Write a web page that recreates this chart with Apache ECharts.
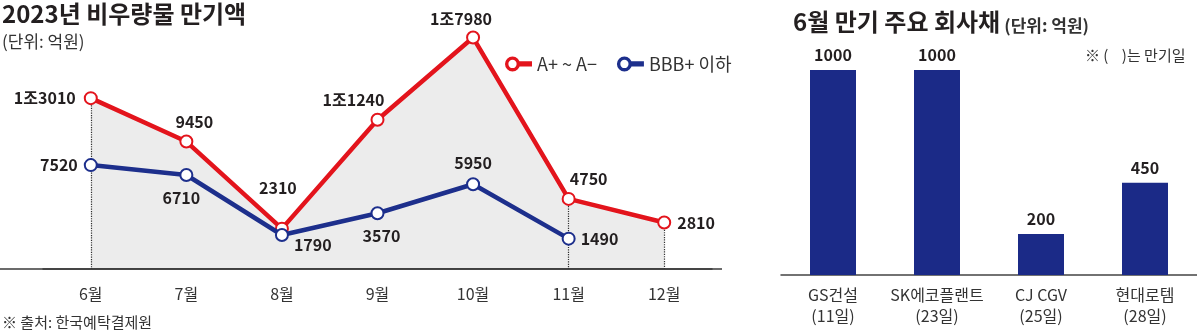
<!DOCTYPE html>
<html><head><meta charset="utf-8">
<script src="https://cdn.jsdelivr.net/npm/echarts@6/dist/echarts.min.js"></script>
<style>html,body{margin:0;padding:0;background:#fff}#c{width:1197px;height:335px}</style>
</head><body><div id="c"></div>
<script>
// ---- data ----
const months = ['6월', '7월', '8월', '9월', '10월', '11월', '12월'];
const gradeA = [13010, 9450, 2310, 11240, 17980, 4750, 2810];      // A+ ~ A-
const gradeBBB = [7520, 6710, 1790, 3570, 5950, 1490, null];       // BBB+ 이하
const seriesNames = ['A+ ~ A−', 'BBB+ 이하'];
const companyNames = ['GS건설', 'SK에코플랜트', 'CJ CGV', '현대로템'];
const dueDays = ['(11일)', '(23일)', '(25일)', '(28일)'];
const amounts = [1000, 1000, 200, 450];
const guideMonths = [0, 5, 6]; // months with dotted guide lines

// ---- styles ----
const RED = '#e3141c', BLUE = '#1d2f8c', BAR = '#1b2a87', INK = '#231f20';
const FONT = '"Noto Sans CJK KR", "Noto Sans", sans-serif';
const Y_MIN = -1000, Y_MAX = 19500;

const fmt = v => v >= 10000 ? Math.floor(v / 10000) + '조' + (v % 10000) : String(v);
const lbl = {show: true, fontSize: 16, fontWeight: 'bold', color: INK, fontFamily: FONT};
const layoutA = [
  {position: 'left', distance: 8},
  {position: 'top', distance: 5, offset: [8, 0]},
  {position: 'top', distance: 26, offset: [-4, 0]},
  {position: 'top', distance: 5, offset: [-24, 0]},
  {position: 'top', distance: 4, offset: [-12, 0]},
  {position: 'top', distance: 5, offset: [20, 0]},
  {position: 'right', distance: 6}
];
const layoutB = [
  {position: 'left', distance: 6},
  {position: 'bottom', distance: 8, offset: [-5, 0]},
  {position: 'right', distance: 5, offset: [0, 10]},
  {position: 'bottom', distance: 8, offset: [4, 0]},
  {position: 'top', distance: 6},
  {position: 'right', distance: 5}
];
const ICON = 'path://M0,10 A10,10 0 1,0 20,10 A10,10 0 1,0 0,10 Z M4.5,10 A5.5,5.5 0 1,1 15.5,10 A5.5,5.5 0 1,1 4.5,10 Z M18,6.5 L18,13.5 L36,13.5 L36,6.5 Z';
const titleText = (size, weight) => ({fontSize: size, fontWeight: weight, color: weight === 'bold' ? INK : '#333', fontFamily: FONT});

const chart = echarts.init(document.getElementById('c'), null, {renderer: 'canvas'});
chart.setOption({
  animation: false,
  textStyle: {fontFamily: FONT},
  title: [
    {text: '2023년 비우량물 만기액', left: 2, top: 2, padding: 0, textStyle: titleText(24, 'bold')},
    {text: '(단위: 억원)', left: 2, top: 33, padding: 0, textStyle: titleText(17, 'normal')},
    {text: '{a|6월 만기 주요 회사채} {b|(단위: 억원)}', left: 793, top: 2, padding: 0,
      textStyle: {rich: {
        a: {fontSize: 24, fontWeight: 'bold', color: INK, fontFamily: FONT, verticalAlign: 'bottom', lineHeight: 32},
        b: {fontSize: 17, color: '#333', fontFamily: FONT, verticalAlign: 'bottom', lineHeight: 28}}}},
    {text: '※ (    )는 만기일', left: 1085, top: 48, padding: 0, textStyle: titleText(15, 'normal')},
    {text: '※ 출처: 한국예탁결제원', left: 2, top: 315, padding: 0, textStyle: titleText(15, 'normal')}
  ],
  legend: {
    left: 505, top: 55, padding: 0, itemWidth: 27, itemHeight: 15, itemGap: 20,
    textStyle: {fontSize: 18, color: '#333', fontFamily: FONT},
    data: [
      {name: seriesNames[0], icon: ICON, itemStyle: {color: RED, borderWidth: 0}},
      {name: seriesNames[1], icon: ICON, itemStyle: {color: BLUE, borderWidth: 0}}
    ]
  },
  graphic: [{type: 'line', z: 0, shape: {x1: 0, y1: 269, x2: 722, y2: 269}, style: {stroke: '#3a3a3a', lineWidth: 1.5}}],
  grid: [
    {left: 43, right: 485, top: 19, bottom: 66},
    {left: 781, right: 0, top: 70, bottom: 60}
  ],
  xAxis: [
    {type: 'category', data: months, boundaryGap: true, gridIndex: 0,
      axisLine: {onZero: false, lineStyle: {color: '#3a3a3a', width: 1.5}},
      axisTick: {alignWithLabel: true, inside: true, length: 5, lineStyle: {color: '#3a3a3a'}},
      axisLabel: {fontSize: 16, color: '#333', margin: 17, fontFamily: FONT}},
    {type: 'category', data: companyNames, gridIndex: 1,
      axisLine: {onZero: false, lineStyle: {color: '#444', width: 1.5}},
      axisTick: {show: false},
      axisLabel: {interval: 0, fontSize: 16, color: '#333', margin: 9, lineHeight: 21, fontFamily: FONT,
        formatter: (v, i) => v + '\n' + dueDays[i]}}
  ],
  yAxis: [
    {type: 'value', gridIndex: 0, min: Y_MIN, max: Y_MAX, show: false},
    {type: 'value', gridIndex: 1, min: 0, max: 1000, show: false}
  ],
  series: [
    {name: seriesNames[0], type: 'line', xAxisIndex: 0, yAxisIndex: 0, z: 3,
      data: gradeA.map((v, i) => ({value: v, label: layoutA[i]})),
      symbol: 'emptyCircle', symbolSize: 12,
      lineStyle: {color: RED, width: 4.5},
      itemStyle: {color: RED, borderWidth: 3},
      areaStyle: {color: 'rgba(0,0,0,0.075)', opacity: 1, origin: 'start'},
      label: Object.assign({}, lbl, {formatter: p => fmt(p.value)}),
      markLine: {silent: true, symbol: 'none', z: 1, label: {show: false},
        lineStyle: {type: 'dotted', color: '#333', width: 1.2},
        data: guideMonths.map(i => [{coord: [months[i], gradeA[i]]}, {coord: [months[i], Y_MIN]}])}
    },
    {name: seriesNames[1], type: 'line', xAxisIndex: 0, yAxisIndex: 0, z: 4,
      data: gradeBBB.map((v, i) => ({value: v, label: layoutB[i]})),
      symbol: 'emptyCircle', symbolSize: 12,
      lineStyle: {color: BLUE, width: 4.5},
      itemStyle: {color: BLUE, borderWidth: 3},
      label: Object.assign({}, lbl, {formatter: p => fmt(p.value)})
    },
    {type: 'bar', xAxisIndex: 1, yAxisIndex: 1, data: amounts, barWidth: 46,
      itemStyle: {color: BAR},
      label: Object.assign({}, lbl, {position: 'top', distance: 7})
    }
  ]
});
</script>
</body></html>
